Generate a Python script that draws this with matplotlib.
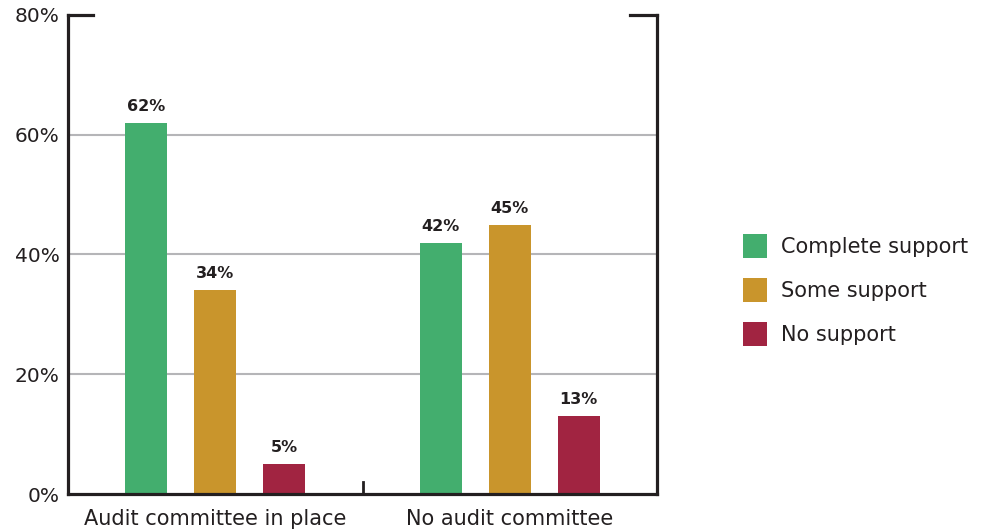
import numpy as np
import matplotlib.pyplot as plt
from matplotlib.patches import Patch

# chart data
groups = ["Audit committee in place", "No audit committee"]
series = ["Complete support", "Some support", "No support"]
complete_support = [62, 42]
some_support = [34, 45]
no_support = [5, 13]
y_ticks = [0, 20, 40, 60, 80]
y_tick_labels = ["0%", "20%", "40%", "60%", "80%"]

colors = ["#43ae6e", "#c9952c", "#a12441"]
text_color = "#231f20"

plt.rcParams['font.family'] = ['DejaVu Sans']

fig = plt.figure(figsize=(9.89, 5.29), dpi=100)
# axes placed in pixel terms: x 68..657, y 15..494 (of 989x529)
ax = fig.add_axes([68 / 989, 1 - 494 / 529, (657 - 68) / 989, (494 - 15) / 529])

x = np.arange(len(groups))
width = 0.142
offset = 0.234

all_values = [complete_support, some_support, no_support]
for i, (vals, col) in enumerate(zip(all_values, colors)):
    pos = x + (i - 1) * offset
    ax.bar(pos, vals, width=width, color=col, zorder=3)
    for p, v in zip(pos, vals):
        ax.text(p, v + 1.5, f"{v}%", ha='center', va='bottom',
                fontsize=11.5, fontweight='bold', color=text_color, zorder=4)

ax.set_xlim(-0.5, 1.5)
ax.set_ylim(0, 80)

# gridlines
for t in y_ticks[1:-1]:
    ax.axhline(t, color="#b5b5b8", linewidth=1.5, zorder=1)

# frame pieces
for s in ['top', 'bottom', 'left', 'right']:
    ax.spines[s].set_visible(False)
ax.plot([-0.5, -0.5], [0, 80], color=text_color, lw=2.3, clip_on=False, zorder=5)
ax.plot([1.5, 1.5], [0, 80], color=text_color, lw=2.3, clip_on=False, zorder=5)
ax.plot([-0.5, 1.5], [0, 0], color=text_color, lw=2.3, clip_on=False, zorder=5)
ax.plot([-0.5, -0.415], [80, 80], color=text_color, lw=2.3, clip_on=False, zorder=5)
ax.plot([1.41, 1.5], [80, 80], color=text_color, lw=2.3, clip_on=False, zorder=5)
ax.plot([0.5, 0.5], [0, 2], color=text_color, lw=2, clip_on=False, zorder=5)

ax.set_yticks(y_ticks)
ax.set_yticklabels(y_tick_labels)
ax.tick_params(axis='y', length=0, pad=6, labelsize=14.5, labelcolor=text_color)
ax.set_xticks(x)
ax.set_xticklabels(groups)
ax.tick_params(axis='x', length=0, pad=11, labelsize=15, labelcolor=text_color)

handles = [Patch(facecolor=c, edgecolor='none') for c in colors]
fig.legend(handles, series, loc='center left', bbox_to_anchor=(0.751, 0.452),
           frameon=False, fontsize=15, labelcolor=text_color,
           handlelength=1.15, handleheight=1.4, handletextpad=0.7,
           labelspacing=0.95, borderpad=0, borderaxespad=0)

fig.savefig("out.png", dpi=100)
